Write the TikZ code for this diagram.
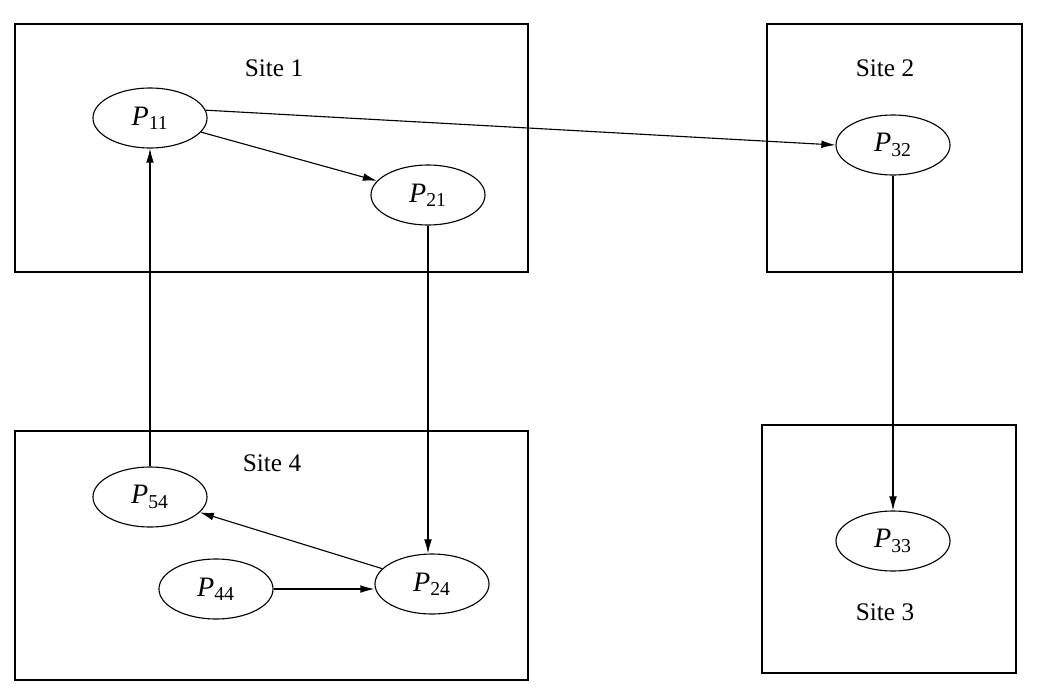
\documentclass[tikz,border=0pt]{standalone}
\usepackage{fontspec}
\setmainfont{Liberation Serif}
\usetikzlibrary{shapes.geometric, arrows.meta, positioning}

\begin{document}
\begin{tikzpicture}[
        x=0.025cm, y=-0.025cm,
        site/.style={draw, line width=0.9pt},
        lbl/.style={font=\fontsize{18}{20}\selectfont},
        proc/.style={draw, ellipse, line width=0.8pt, minimum width=2.85cm,
            minimum height=1.5cm, inner sep=0pt, font=\fontsize{20}{22}\selectfont},
        rel/.style={-{Latex[length=10pt, width=5.5pt]}, line width=0.8pt}
    ]
        \useasboundingbox (0,0) rectangle (1040,698);
        % sites
        \draw[site] (15,24) rectangle (528,272);
        \draw[site] (767,24) rectangle (1022,272);
        \draw[site] (15,431) rectangle (528,680);
        \draw[site] (762,425) rectangle (1016,673);
        \node[lbl] (site1) at (274,68) {Site 1};
        \node[lbl] (site2) at (885,68) {Site 2};
        \node[lbl] (site4) at (272,463) {Site 4};
        \node[lbl] (site3) at (885,612) {Site 3};
        % processes
        \node[proc] (p11) at (150,118) {\textit{P}\textsubscript{11}};
        \node[proc] (p21) at (428,195) {\textit{P}\textsubscript{21}};
        \node[proc] (p32) at (893,145) {\textit{P}\textsubscript{32}};
        \node[proc] (p54) at (150,497) {\textit{P}\textsubscript{54}};
        \node[proc] (p44) at (216,589) {\textit{P}\textsubscript{44}};
        \node[proc] (p24) at (432,584) {\textit{P}\textsubscript{24}};
        \node[proc] (p33) at (893,541) {\textit{P}\textsubscript{33}};
        % messages
        \draw[rel] (p11.8) -- (p32.west);
        \draw[rel] (p11) -- (p21);
        \draw[rel] (p21.south) -- (p21.south |- p24.north);
        \draw[rel] (p32.south) -- (p33.north);
        \draw[rel] (p54.north) -- (p11.south);
        \draw[rel] (p24) -- (p54);
        \draw[rel] (p44.east) -- (p44.east -| p24.west);
    \end{tikzpicture}
\end{document}
